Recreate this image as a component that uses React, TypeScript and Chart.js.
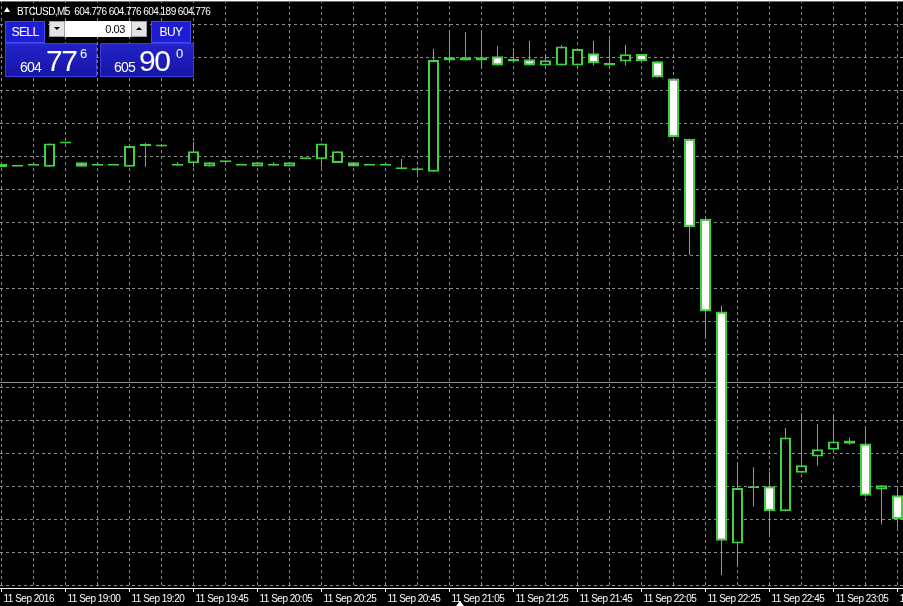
import React, { useEffect, useRef } from 'react';
import { Chart, registerables } from 'chart.js';

Chart.register(...registerables);

// ---- Data (BTCUSD, M5) ----
const opens = [
  611.77, 611.68, 611.71, 611.68, 612.39, 611.82, 611.71, 611.71, 611.68, 612.31,
  612.36, 611.71, 611.79, 611.69, 611.82, 611.71, 611.69, 611.71, 611.69, 611.91,
  611.91, 611.80, 611.82, 611.71, 611.71, 611.61, 611.58, 611.53, 614.90, 615.00,
  614.90, 615.03, 614.87, 614.94, 614.75, 614.75, 614.75, 615.12, 614.75, 614.87,
  615.10, 614.88, 614.36, 612.53, 610.11, 607.30, 600.27, 601.94, 602.00, 601.24,
  602.41, 602.90, 603.11, 603.39, 603.30, 601.90, 601.73,
];
const highs = [
  611.77, 611.68, 611.71, 612.39, 612.43, 611.82, 611.79, 611.71, 612.31, 612.41,
  612.36, 611.83, 612.43, 611.82, 611.82, 611.71, 611.82, 611.82, 611.82, 611.91,
  612.39, 612.15, 611.82, 611.71, 611.71, 611.92, 611.68, 615.25, 615.74, 615.77,
  615.74, 615.34, 615.17, 615.49, 615.09, 615.37, 615.25, 615.49, 615.55, 615.37,
  615.10, 614.88, 614.36, 612.53, 610.11, 607.48, 602.70, 602.58, 602.45, 603.77,
  604.21, 603.89, 604.16, 603.48, 603.73, 602.03, 601.95,
];
const lows = [
  611.67, 611.68, 611.71, 611.68, 612.39, 611.68, 611.71, 611.71, 611.68, 611.68,
  612.30, 611.71, 611.67, 611.69, 611.82, 611.71, 611.69, 611.71, 611.69, 611.91,
  611.67, 611.80, 611.69, 611.71, 611.71, 611.61, 611.48, 611.53, 614.90, 614.90,
  614.68, 614.75, 614.87, 614.75, 614.75, 614.75, 614.75, 614.75, 614.75, 614.75,
  614.88, 614.39, 612.58, 609.01, 606.52, 599.31, 599.59, 601.38, 600.56, 601.24,
  602.41, 602.62, 603.11, 603.26, 601.68, 600.84, 600.75,
];
const closes = [
  611.67, 611.68, 611.71, 612.39, 612.39, 611.68, 611.71, 611.71, 612.31, 612.31,
  612.30, 611.75, 612.15, 611.82, 611.82, 611.71, 611.82, 611.71, 611.82, 611.91,
  612.39, 612.15, 611.69, 611.71, 611.71, 611.61, 611.58, 614.92, 615.00, 614.90,
  615.00, 614.75, 614.95, 614.75, 614.91, 615.33, 615.25, 614.82, 614.83, 615.09,
  614.88, 614.39, 612.58, 609.85, 607.30, 600.35, 601.95, 602.00, 601.24, 603.48,
  602.64, 603.12, 603.36, 603.29, 601.71, 602.03, 601.00,
];

const tickBars = [0, 4, 8, 12, 16, 20, 24, 28, 32, 36, 40, 44, 48, 52, 56];
const tickLabels = [
  '11 Sep 2016', '11 Sep 19:00', '11 Sep 19:20', '11 Sep 19:45', '11 Sep 20:05',
  '11 Sep 20:25', '11 Sep 20:45', '11 Sep 21:05', '11 Sep 21:25', '11 Sep 21:45',
  '11 Sep 22:05', '11 Sep 22:25', '11 Sep 22:45', '11 Sep 23:05', '11 Sep 23:25',
];
const gridBars = [0, 2, 4, 6, 8, 10, 12, 14, 16, 18, 20, 22, 24, 26, 28, 30, 32, 34, 36, 38, 40, 42, 44, 46, 48, 50, 52, 54, 56];
const gridPrices = [599, 600, 601, 602, 603, 604, 605, 606, 607, 608, 609, 610, 611, 612, 613, 614, 615, 616];
const bidLine = 605.145;
const priceMin = 598.918;
const priceMax = 616.736;

const symbolText = 'BTCUSD,M5  604.776 604.776 604.189 604.776';

const GREEN = '#3ed23e';
const GRID = '#8c8c8c';
const NARROW = "'Liberation Sans Narrow', 'Liberation Sans', Arial, sans-serif";

const tightText = {
  id: 'tightText',
  beforeDraw(chart: any) {
    chart.ctx.save();
    (chart.ctx as any).letterSpacing = '-0.5px';
  },
  afterDraw(chart: any) {
    chart.ctx.restore();
  },
};

export default function App() {
  const ref = useRef<HTMLCanvasElement>(null);

  useEffect(() => {
    const canvas = ref.current;
    if (!canvas) return;
    const bodyData = opens.map((o, i) => ({ x: i, y: [o, closes[i]] }));
    const wickData = opens.map((_, i) => ({ x: i, y: [lows[i], highs[i]] }));

    const chart = new Chart(canvas, {
      type: 'bar',
      data: {
        datasets: [
          {
            type: 'bar',
            data: bodyData as any,
            order: 0,
            backgroundColor: opens.map((o, i) => (closes[i] < o ? '#ffffff' : '#000000')),
            borderColor: GREEN,
            borderWidth: 2,
            borderSkipped: false,
            barThickness: 11,
            minBarLength: 2,
            grouped: false,
            inflateAmount: 0,
          } as any,
          {
            type: 'bar',
            data: wickData as any,
            order: 1,
            backgroundColor: GREEN,
            borderWidth: 0,
            barThickness: 1,
            grouped: false,
            inflateAmount: 0,
          } as any,
          {
            type: 'line',
            data: [{ x: -1, y: bidLine }, { x: 60, y: bidLine }] as any,
            order: 2,
            borderColor: '#8f8f8f',
            borderWidth: 1,
            pointRadius: 0,
          } as any,
        ],
      },
      options: {
        animation: false,
        responsive: false,
        events: [],
        layout: { padding: 0 },
        plugins: { legend: { display: false }, tooltip: { enabled: false } },
        scales: {
          x: {
            type: 'linear',
            position: 'bottom',
            min: -0.09375,
            max: 56.34375,
            offset: false,
            afterBuildTicks: (s: any) => {
              s.ticks = gridBars.map((v) => ({ value: v }));
            },
            afterFit: (s: any) => {
              s.height = 18;
              s.paddingLeft = 0;
              s.paddingRight = 0;
            },
            grid: {
              offset: false,
              color: GRID,
              lineWidth: 1,
              drawTicks: true,
              tickLength: 4,
              tickWidth: 1,
              tickBorderDash: [],
              tickColor: (c: any) =>
                c.tick && tickBars.includes(c.tick.value) ? '#ffffff' : 'rgba(0,0,0,0)',
            },
            border: { display: true, color: '#ffffff', width: 1, dash: [3, 3] },
            ticks: {
              autoSkip: false,
              maxRotation: 0,
              minRotation: 0,
              align: 'start',
              labelOffset: 2,
              padding: 1,
              color: '#ffffff',
              font: { family: NARROW, size: 10 },
              callback: (v: any) => {
                const i = tickBars.indexOf(Number(v));
                return i >= 0 ? tickLabels[i] : '';
              },
            },
          } as any,
          y: {
            type: 'linear',
            position: 'left',
            min: priceMin,
            max: priceMax,
            afterBuildTicks: (s: any) => {
              s.ticks = gridPrices.map((v) => ({ value: v }));
            },
            afterFit: (s: any) => {
              s.width = 0;
            },
            ticks: { display: false },
            grid: { color: GRID, lineWidth: 1, drawTicks: false },
            border: { display: false, dash: [3, 3] },
          } as any,
        },
      },
      plugins: [tightText],
    });
    return () => chart.destroy();
  }, []);

  const abs = (o: React.CSSProperties): React.CSSProperties => ({ position: 'absolute', ...o });
  const btn: React.CSSProperties = {
    position: 'absolute',
    top: 21,
    height: 22,
    background: '#1d1dd2',
    border: '1px solid #4646f0',
    color: '#ffffff',
    fontFamily: NARROW,
    fontSize: 12,
    letterSpacing: '-0.6px',
    lineHeight: '20px',
    textAlign: 'center',
    boxSizing: 'border-box',
  };
  const priceBox: React.CSSProperties = {
    position: 'absolute',
    top: 43,
    height: 34,
    background: 'linear-gradient(#2323c8, #1616a8)',
    border: '1px solid #3c3ce6',
    boxSizing: 'border-box',
  };
  const txt = (left: number, top: number, size: number, s: string, ls = 0) => (
    <span
      style={abs({
        left,
        top,
        fontSize: size,
        lineHeight: 1,
        color: '#ffffff',
        fontFamily: NARROW,
        whiteSpace: 'pre',
        letterSpacing: ls ? `${ls}px` : undefined,
      })}
    >
      {s}
    </span>
  );

  return (
    <div
      style={{
        position: 'fixed',
        left: 0,
        top: 0,
        width: 903,
        height: 606,
        background: '#000000',
        overflow: 'hidden',
      }}
    >
      <canvas ref={ref} width={903} height={606} style={{ position: 'absolute', left: 0, top: 0 }} />
      <div style={abs({ left: 0, top: 0, width: 903, height: 1, background: '#ffffff' })} />
      <div style={abs({ left: 0, top: 1, width: 903, height: 1, background: '#6e6e6e' })} />
      {/* header */}
      <div
        style={abs({
          left: 4,
          top: 7,
          width: 0,
          height: 0,
          borderLeft: '3px solid transparent',
          borderRight: '3px solid transparent',
          borderBottom: '5px solid #ffffff',
        })}
      />
      {txt(17, 7, 10, symbolText, -0.55)}
      {/* one click panel */}
      <div style={{ ...btn, left: 5, width: 40 }}>SELL</div>
      <div style={{ ...btn, left: 151, width: 40 }}>BUY</div>
      <div
        style={abs({
          left: 49,
          top: 21,
          width: 16,
          height: 16,
          background: '#e4e4e4',
          border: '1px solid #a0a0a0',
          boxSizing: 'border-box',
        })}
      >
        <div
          style={abs({
            left: 4,
            top: 5,
            width: 0,
            height: 0,
            borderLeft: '3px solid transparent',
            borderRight: '3px solid transparent',
            borderTop: '3px solid #000000',
          })}
        />
      </div>
      <div
        style={abs({
          left: 65,
          top: 21,
          width: 66,
          height: 16,
          background: '#ffffff',
          boxSizing: 'border-box',
          color: '#000000',
          fontFamily: NARROW,
          fontSize: 11,
          lineHeight: '16px',
          textAlign: 'right',
          paddingRight: 6,
          letterSpacing: '-0.4px',
        })}
      >
        0.03
      </div>
      <div
        style={abs({
          left: 131,
          top: 21,
          width: 16,
          height: 16,
          background: '#e4e4e4',
          border: '1px solid #a0a0a0',
          boxSizing: 'border-box',
        })}
      >
        <div
          style={abs({
            left: 4,
            top: 5,
            width: 0,
            height: 0,
            borderLeft: '3px solid transparent',
            borderRight: '3px solid transparent',
            borderBottom: '3px solid #000000',
          })}
        />
      </div>
      <div style={{ ...priceBox, left: 5, width: 92 }} />
      <div style={{ ...priceBox, left: 100, width: 94 }} />
      {txt(20, 60, 14, '604', -0.8)}
      {txt(46, 46, 30, '77', -1.5)}
      {txt(80, 47, 13, '6')}
      {txt(114, 60, 14, '605', -0.8)}
      {txt(139, 46, 30, '90', -1.5)}
      {txt(176, 47, 13, '0')}
      {/* bottom marker */}
      <div
        style={abs({
          left: 456,
          top: 601,
          width: 0,
          height: 0,
          borderLeft: '4px solid transparent',
          borderRight: '4px solid transparent',
          borderBottom: '5px solid #ffffff',
        })}
      />
    </div>
  );
}
